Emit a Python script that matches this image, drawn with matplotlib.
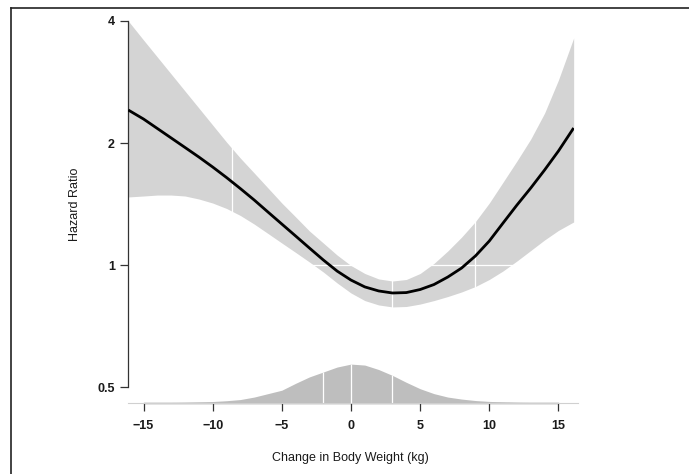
import matplotlib
matplotlib.use("Agg")
import matplotlib.pyplot as plt
import numpy as np
from matplotlib.lines import Line2D
from matplotlib.ticker import FixedLocator, FixedFormatter, NullLocator

plt.rcParams["font.family"] = ["Liberation Sans", "DejaVu Sans"]

# weight change (kg) where the spline and its band were read
weight = [-16.1, -15, -14, -13, -12, -11, -10, -9, -8, -7, -6, -5, -4, -3, -2, -1,
          0, 1, 2, 3, 4, 5, 6, 7, 8, 9, 10, 11, 12, 13, 14, 15, 16.1]
hr_fit = [2.412, 2.292, 2.172, 2.058, 1.950, 1.847, 1.745, 1.644, 1.544, 1.447, 1.351,
          1.262, 1.179, 1.101, 1.029, 0.966, 0.918, 0.883, 0.863, 0.853, 0.855, 0.870,
          0.895, 0.934, 0.983, 1.053, 1.146, 1.270, 1.406, 1.549, 1.716, 1.911, 2.178]
hr_upper = [4.000, 3.591, 3.260, 2.960, 2.687, 2.440, 2.215, 2.011, 1.836, 1.687, 1.549,
            1.422, 1.314, 1.213, 1.133, 1.058, 0.997, 0.953, 0.924, 0.913, 0.921, 0.953,
            1.009, 1.083, 1.172, 1.280, 1.422, 1.602, 1.806, 2.046, 2.371, 2.861, 3.632]
hr_lower = [1.472, 1.480, 1.488, 1.488, 1.480, 1.455, 1.422, 1.379, 1.325, 1.262, 1.196,
            1.133, 1.074, 1.017, 0.961, 0.903, 0.853, 0.817, 0.797, 0.788, 0.790, 0.801,
            0.817, 0.836, 0.858, 0.885, 0.921, 0.967, 1.023, 1.086, 1.153, 1.217, 1.277]

# distribution of weight change (density per kg)
dens_x = [-16.1, -14, -12, -10, -9, -8, -7, -6, -5, -4, -3, -2, -1, 0, 1, 2, 3, 4, 5,
          6, 7, 8, 9, 10, 12, 14, 16.1]
dens_y = [0.0000, 0.0008, 0.0020, 0.0042, 0.0065, 0.0098, 0.0169, 0.0267, 0.0365,
          0.0562, 0.0745, 0.0885, 0.1026, 0.1110, 0.1082, 0.0955, 0.0787, 0.0590,
          0.0407, 0.0267, 0.0169, 0.0112, 0.0070, 0.0045, 0.0020, 0.0006, 0.0000]

band_knots = [-8.6, 3, 9]
dens_knots = [-2, 0, 3]

x_ticks = [-15, -10, -5, 0, 5, 10, 15]
y_ticks = [0.5, 1, 2, 4]
y_labels = ["0.5", "1", "2", "4"]

fig = plt.figure(figsize=(6.89, 4.74), dpi=100)
ax = fig.add_axes([0.1858, 0.1498, 0.6472, 0.8059])

ax.fill_between(weight, hr_lower, hr_upper, color="#d4d4d4", lw=0, zorder=1)
for k in band_knots:
    ax.axvline(k, color="white", lw=0.9, zorder=1.5)
ax.axhline(1, color="white", lw=0.9, zorder=1.5)
ax.plot(weight, hr_fit, color="black", lw=2.0, zorder=3, solid_capstyle="butt")

ax.set_yscale("log")
ax.set_xlim(-16.12, 16.12)
ax.set_ylim(0.4566, 4.0)
ax.yaxis.set_major_locator(FixedLocator(y_ticks))
ax.yaxis.set_major_formatter(FixedFormatter(y_labels))
ax.yaxis.set_minor_locator(NullLocator())
ax.set_xticks(x_ticks)
ax.set_xticklabels([f"{t}".replace("-", "\u2212") for t in x_ticks])

for side in ["top", "right"]:
    ax.spines[side].set_visible(False)
ax.spines["left"].set_bounds(0.5, 4)
ax.spines["bottom"].set_bounds(-15, 15)
for side in ["left", "bottom"]:
    ax.spines[side].set_color("#333333")
    ax.spines[side].set_linewidth(0.9)
ax.tick_params(axis="both", direction="out", length=5.5, width=0.9, color="#333333",
               labelsize=9, labelcolor="#1a1a1a", pad=4)
for lab in ax.get_xticklabels() + ax.get_yticklabels():
    lab.set_fontweight("bold")
ax.tick_params(axis="x", pad=7)

# density strip on its own linear scale
ax2 = ax.twinx()
ax2.fill_between(dens_x, 0, dens_y, color="#bebebe", lw=0)
ax2.vlines(dens_knots, 0, np.interp(dens_knots, dens_x, dens_y), color="white", lw=0.9)
ax2.axhline(0, color="#d0d0d0", lw=0.8, xmax=1.01, clip_on=False)
ax2.set_ylim(0, 1.09)
ax2.set_xlim(-16.12, 16.12)
ax2.axis("off")

fig.text(0.508, 0.034, "Change in Body Weight (kg)", ha="center", va="center",
         fontsize=9, color="#1a1a1a")
fig.text(0.109, 0.570, "Hazard Ratio", ha="center", va="center", rotation=90,
         fontsize=9, color="#1a1a1a")

# frame of the scanned figure (top and left edges only)
fig.add_artist(Line2D([0.016, 1.0], [0.983, 0.983], transform=fig.transFigure,
                      color="#222222", lw=1.2))
fig.add_artist(Line2D([0.016, 0.016], [0.0, 0.983], transform=fig.transFigure,
                      color="#222222", lw=1.2))

fig.savefig("out.png", dpi=100)
